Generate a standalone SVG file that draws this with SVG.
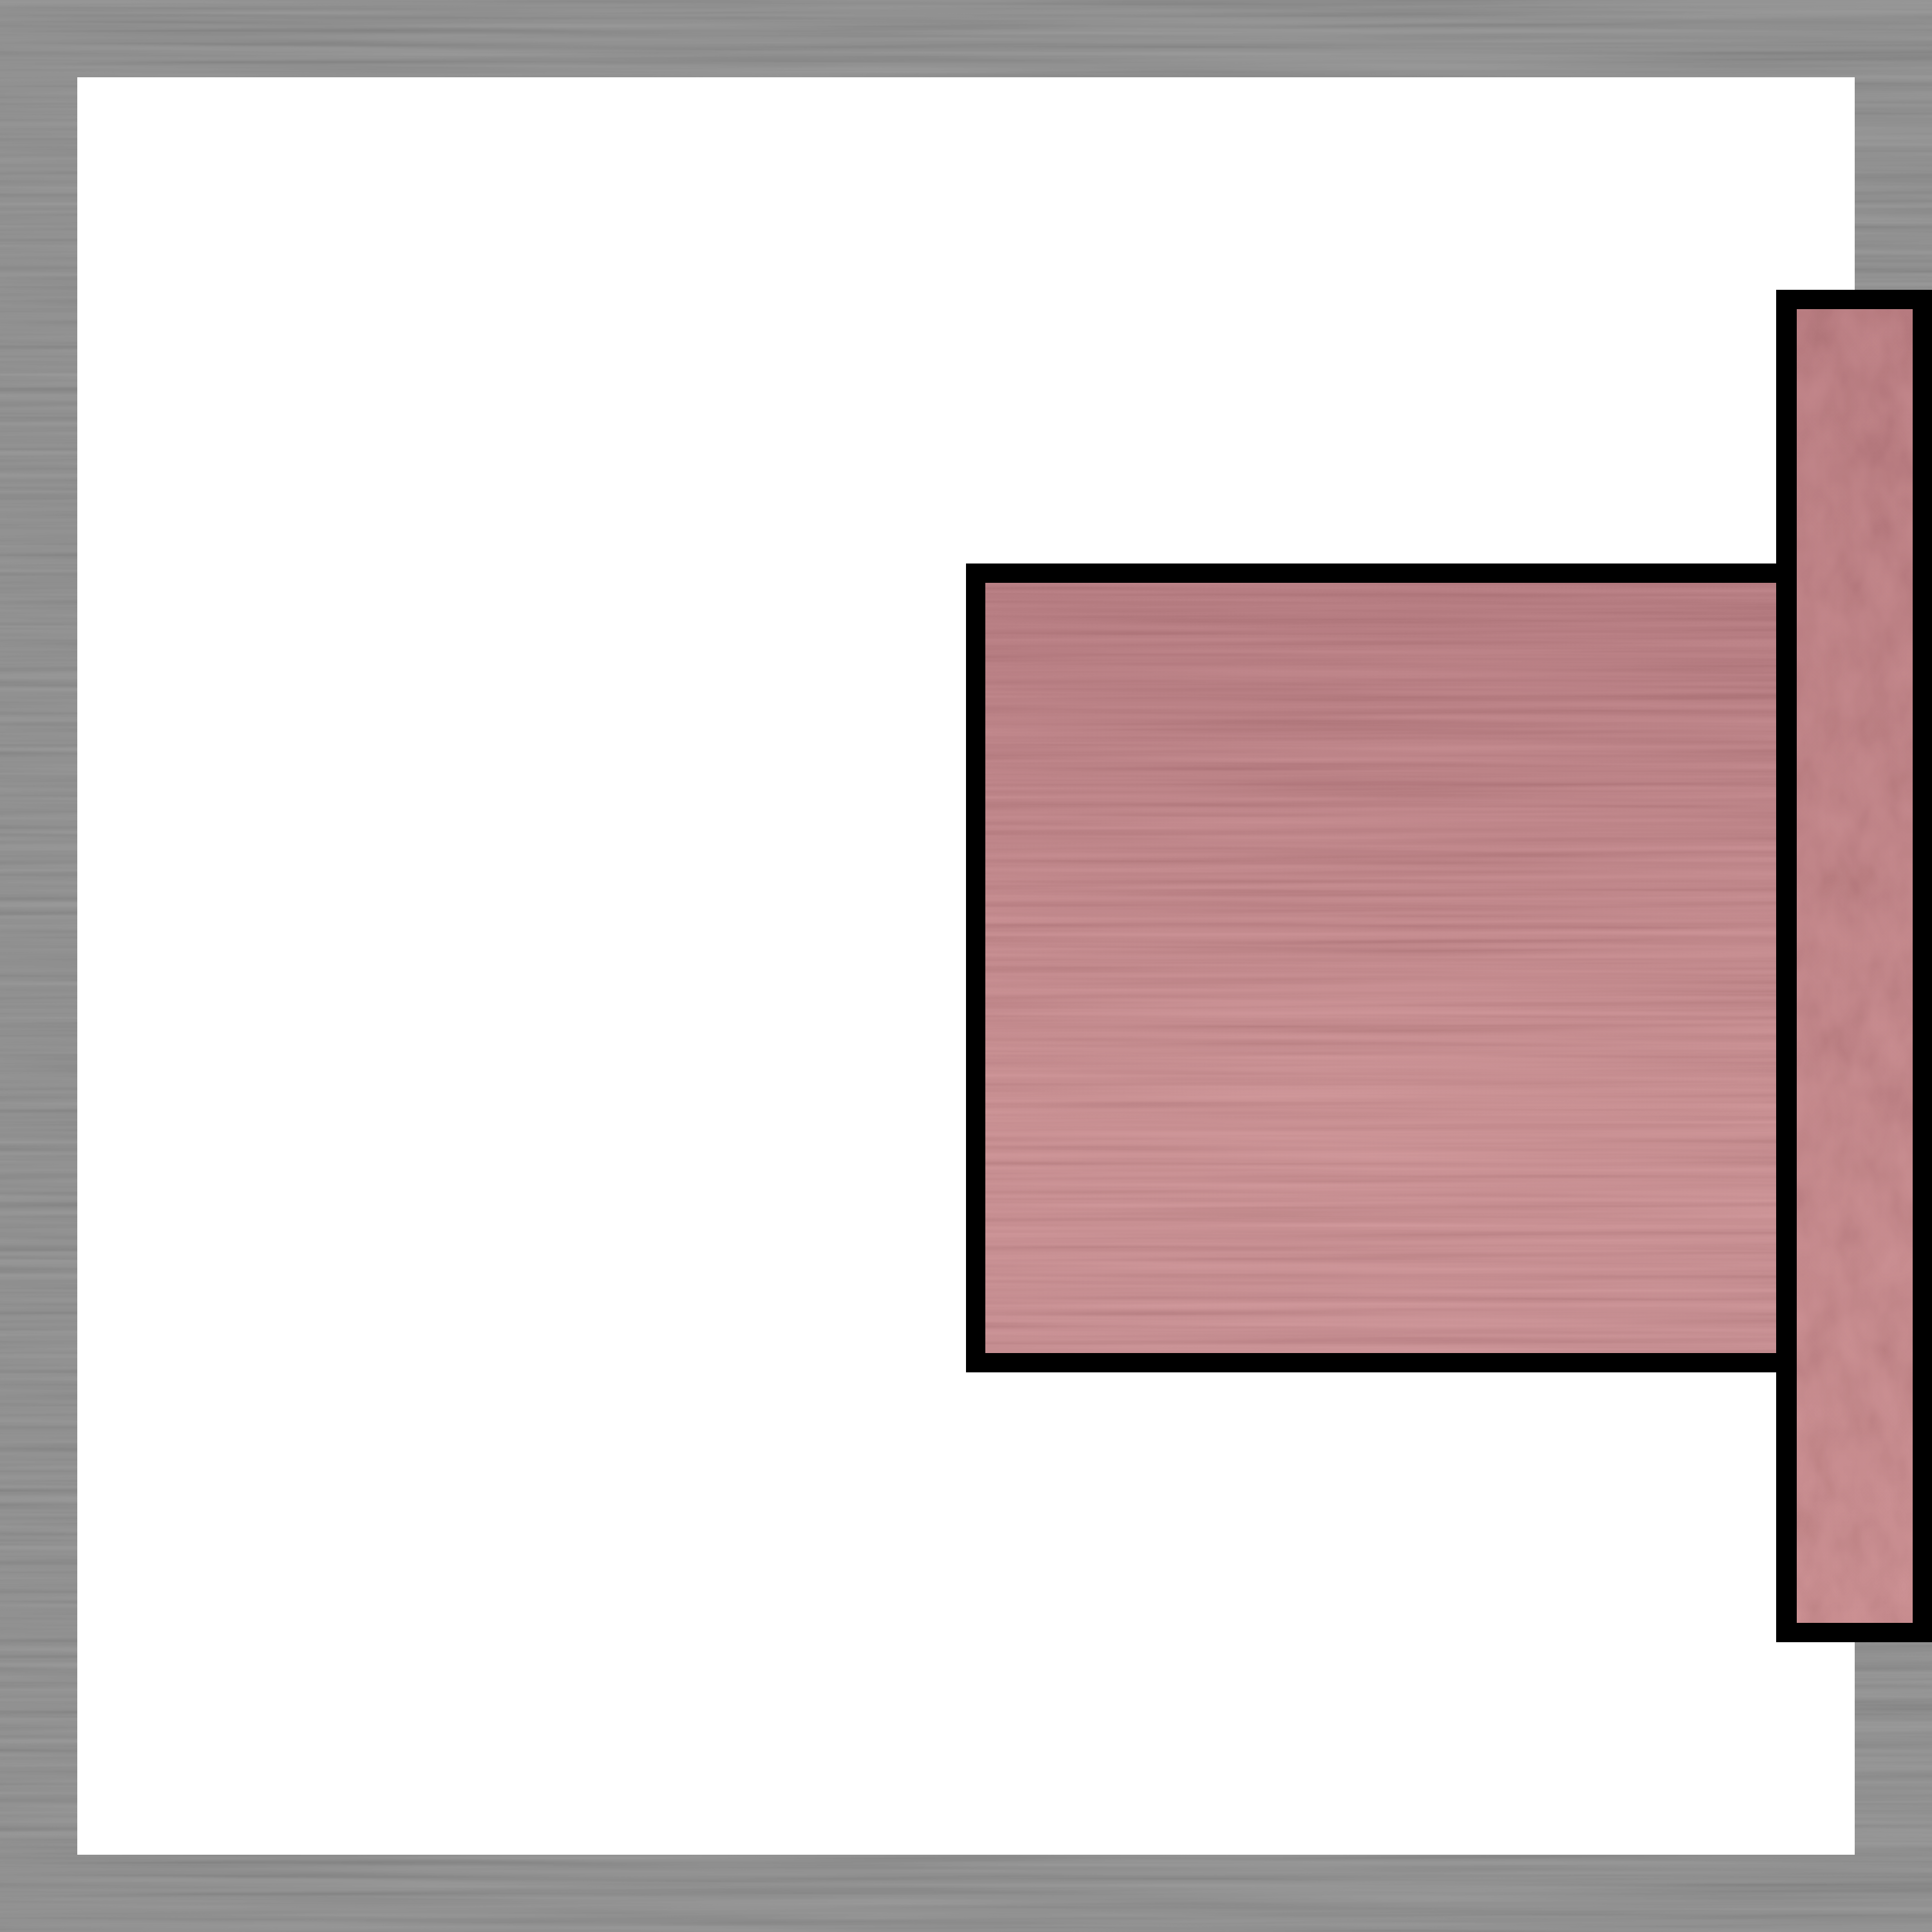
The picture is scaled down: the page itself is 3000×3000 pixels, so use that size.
<svg xmlns="http://www.w3.org/2000/svg" width="3000" height="3000" viewBox="0 0 3000 3000">
<defs>
<filter id="brushH" x="0" y="0" width="1" height="1" filterUnits="objectBoundingBox">
<feTurbulence type="fractalNoise" baseFrequency="0.0012 0.09" numOctaves="3" seed="4"/>
<feColorMatrix type="matrix" values="1 0 0 0 0  1 0 0 0 0  1 0 0 0 0  0 0 0 0 0.16"/>
<feComposite in2="SourceGraphic" operator="in"/>
</filter>
<filter id="mottle" x="0" y="0" width="1" height="1" filterUnits="objectBoundingBox">
<feTurbulence type="fractalNoise" baseFrequency="0.02 0.012" numOctaves="3" seed="7"/>
<feColorMatrix type="matrix" values="1 0 0 0 0  1 0 0 0 0  1 0 0 0 0  0 0 0 0 0.12"/>
<feComposite in2="SourceGraphic" operator="in"/>
</filter>
<linearGradient id="pinkV" x1="0" y1="0" x2="0" y2="1">
<stop offset="0" stop-color="#b47076"/>
<stop offset="0.7" stop-color="#ca878a"/>
<stop offset="1" stop-color="#c8868a"/>
</linearGradient>
<linearGradient id="pinkBar" x1="0" y1="0" x2="0" y2="1">
<stop offset="0" stop-color="#b9757a"/>
<stop offset="1" stop-color="#c98689"/>
</linearGradient>
</defs>
<style>
.edge{fill:#000}
.overlay{fill:#000}
</style>
<g id="frame">
<rect x="0" y="0" width="3000" height="3000" fill="#888888"/>
<rect x="0" y="0" width="3000" height="3000" class="overlay" filter="url(#brushH)"/>
<rect x="120" y="120" width="2760" height="2760" fill="#ffffff"/>
</g>
<g id="block">
<rect class="edge" x="1500" y="875" width="1290" height="1256"/>
<rect x="1530" y="905" width="1230" height="1196" fill="url(#pinkV)"/>
<rect x="1530" y="905" width="1230" height="1196" class="overlay" filter="url(#brushH)"/>
</g>
<g id="bar">
<rect class="edge" x="2758" y="450" width="242" height="2100"/>
<rect x="2790" y="480" width="180" height="2040" fill="url(#pinkBar)"/>
<rect x="2790" y="480" width="180" height="2040" class="overlay" filter="url(#mottle)"/>
</g>
</svg>
